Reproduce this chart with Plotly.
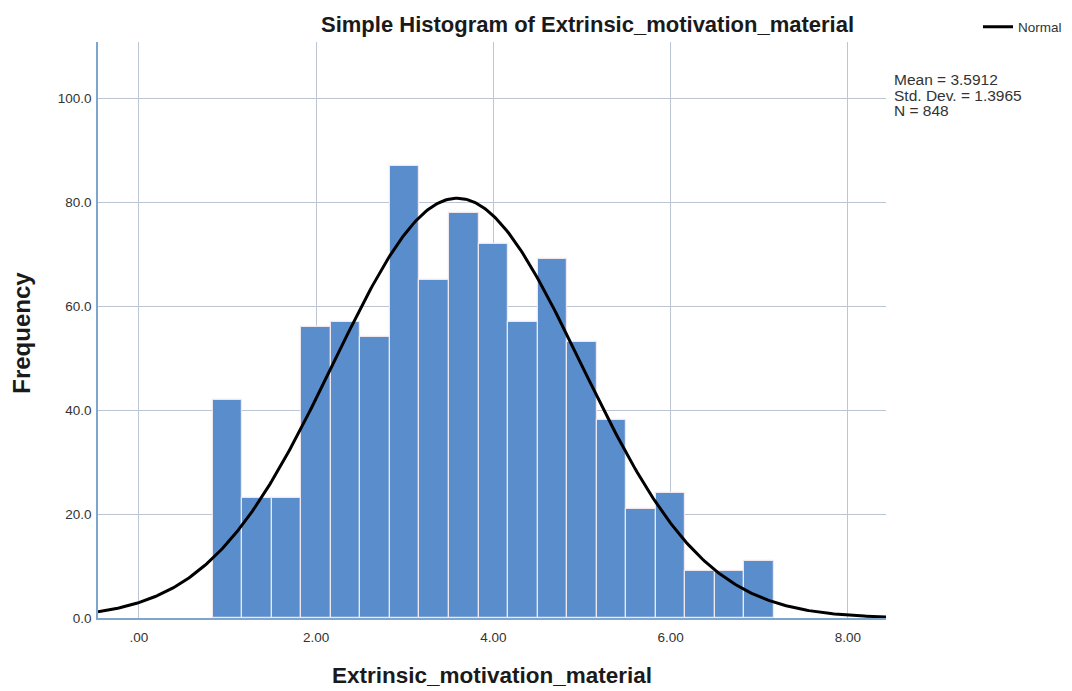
import numpy as np
import plotly.graph_objects as go

# ---- data ----
bin_centers = [1.0000, 1.3333, 1.6667, 2.0000, 2.3333, 2.6667, 3.0000, 3.3333, 3.6667,
               4.0000, 4.3333, 4.6667, 5.0000, 5.3333, 5.6667, 6.0000, 6.3333, 6.6667, 7.0000]
frequencies = [42, 23, 23, 56, 57, 54, 87, 65, 78, 72, 57, 69, 53, 38, 21, 24, 9, 9, 11]
bin_width = 1 / 3
mean_val = 3.5912
std_val = 1.3965
n_val = 848
x_tick_vals = [0, 2, 4, 6, 8]
x_tick_text = [".00", "2.00", "4.00", "6.00", "8.00"]
y_tick_vals = [0, 20, 40, 60, 80, 100]
y_tick_text = ["0.0", "20.0", "40.0", "60.0", "80.0", "100.0"]
stats_lines = [f"Mean = {mean_val:.4f}", f"Std. Dev. = {std_val:.4f}", f"N = {n_val}"]

x_range = [-0.46, 8.43]
y_range = [0, 110.8]

# normal curve scaled to histogram counts
xs = np.linspace(x_range[0], x_range[1], 400)
ys = n_val * bin_width / (std_val * np.sqrt(2 * np.pi)) * np.exp(-0.5 * ((xs - mean_val) / std_val) ** 2)

FONT = "Liberation Sans, Arial, sans-serif"

fig = go.Figure()
fig.add_trace(go.Bar(
    x=bin_centers, y=frequencies, width=bin_width,
    marker=dict(color="#5A8DCB", line=dict(color="#EEE8EE", width=1.2)),
    showlegend=False, hoverinfo="x+y",
))
fig.add_trace(go.Scatter(
    x=xs, y=ys, mode="lines", name="Normal",
    line=dict(color="black", width=3),
))

L, R, T, B = 98, 186, 42, 72.5
W, H = 1072, 691
pw, ph = W - L - R, H - T - B

def px(p):
    return (p - L) / pw

def py(q):
    return (H - B - q) / ph

annotations = [
    dict(text="<b>Simple Histogram of Extrinsic_motivation_material</b>",
         x=px(587.5), y=py(24), xref="paper", yref="paper",
         xanchor="center", yanchor="middle", showarrow=False,
         font=dict(size=22, color="#1a1a1a", family=FONT)),
    dict(text="<b>Frequency</b>", x=px(22), y=py(333), xref="paper", yref="paper",
         xanchor="center", yanchor="middle", showarrow=False, textangle=-90,
         font=dict(size=24, color="#1a1a1a", family=FONT)),
    dict(text="<b>Extrinsic_motivation_material</b>", x=px(492), y=py(676),
         xref="paper", yref="paper", xanchor="center", yanchor="middle",
         showarrow=False, font=dict(size=22.5, color="#1a1a1a", family=FONT)),
]
for i, line in enumerate(stats_lines):
    annotations.append(dict(
        text=line, x=px(892), y=py(80 + 15.5 * i), xref="paper", yref="paper",
        xanchor="left", yanchor="middle", align="left", showarrow=False,
        font=dict(size=15.5, color="#333333", family=FONT)))

fig.update_layout(
    width=W, height=H,
    margin=dict(l=L, r=R, t=T, b=B, autoexpand=False),
    paper_bgcolor="white", plot_bgcolor="white",
    font=dict(family=FONT, size=13, color="#333333"),
    bargap=0,
    legend=dict(x=px(978), y=py(27), xanchor="left", yanchor="middle",
                font=dict(size=13.5, color="#333333"), bgcolor="rgba(0,0,0,0)",
                itemwidth=30),
    xaxis=dict(range=x_range, tickvals=x_tick_vals, ticktext=x_tick_text,
               showgrid=True, gridcolor="#BCC6D2", gridwidth=1,
               showline=True, linecolor="#7EA6CC", linewidth=1.5,
               zeroline=False, ticks="", ticklabelstandoff=6,
               tickfont=dict(size=13.5, color="#333333")),
    yaxis=dict(range=y_range, tickvals=y_tick_vals, ticktext=y_tick_text,
               showgrid=True, gridcolor="#BCC6D2", gridwidth=1,
               showline=True, linecolor="#7EA6CC", linewidth=1.5,
               zeroline=False, ticks="", ticklabelstandoff=2,
               tickfont=dict(size=13.5, color="#333333")),
    annotations=annotations,
)

fig.write_html("out.html")
